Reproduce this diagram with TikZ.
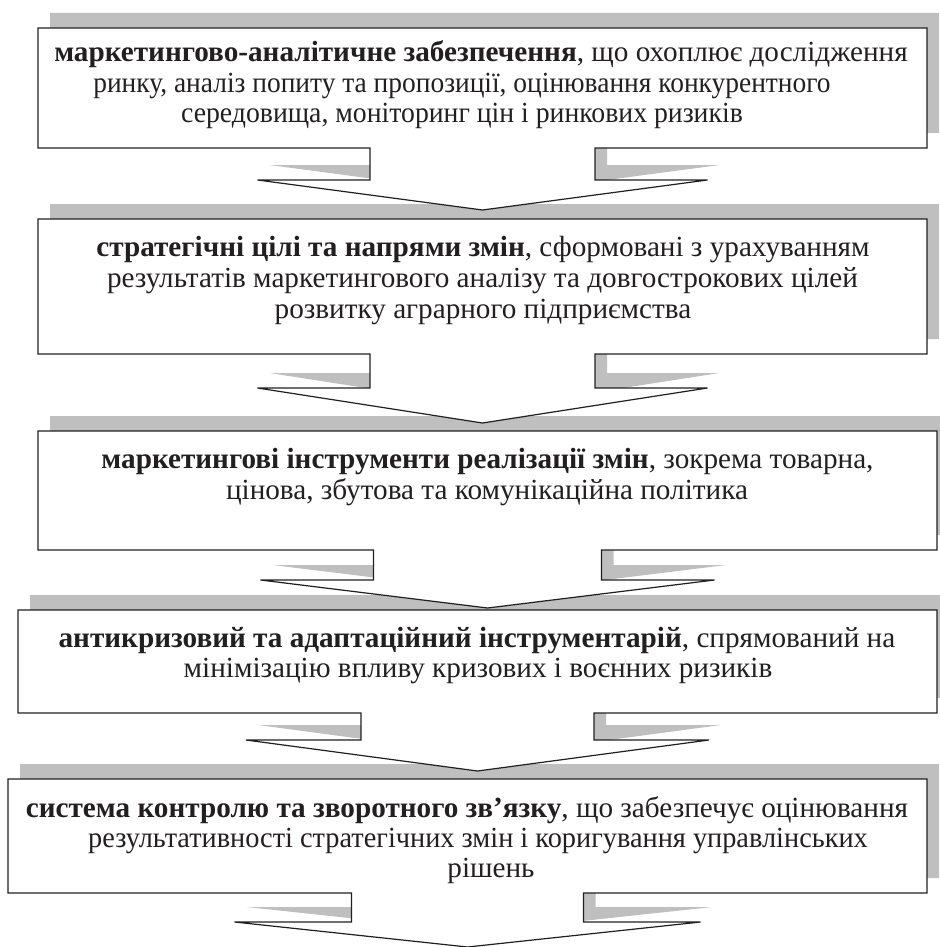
\documentclass[tikz,border=0pt]{standalone}
\usepackage{graphicx}
\usepackage{fontspec}
\setmainfont{Liberation Serif}
\definecolor{shd}{RGB}{191,191,191}
\definecolor{ink}{RGB}{35,31,32}
% callout outline: L T R B C s w Wy Py
\newcommand\cpath[9]{(#1,#2) -- (#3,#2) -- (#3,#4) -- ({#5+#6},#4) -- ({#5+#6},#8) -- ({#5+#7},#8) -- (#5,#9) -- ({#5-#7},#8) -- ({#5-#6},#8) -- ({#5-#6},#4) -- (#1,#4) -- cycle}
\newcommand\narrowtxt[2]{\scalebox{#1}[1]{#2}}
\tikzset{
  shadowfill/.style={fill=shd, draw=none, shift={(12,-15)}},
  boxshape/.style={fill=white, draw=ink, line width=1.2pt, line join=miter},
  txt/.style={font=\fontsize{29.2}{31}\selectfont, inner sep=0pt, text=ink, anchor=base}
}
\begin{document}
\begin{tikzpicture}[x=1pt,y=-1pt]
\useasboundingbox (0,0) rectangle (939,947);
% shadows
\fill[shadowfill] \cpath{38}{28}{927}{148}{482.5}{112.5}{225}{180}{210};
\fill[shadowfill] \cpath{38}{219}{927}{354}{482.5}{112.5}{225}{388}{423};
\fill[shadowfill] \cpath{38}{431}{937}{550}{487.5}{114}{227}{580}{608};
\fill[shadowfill] \cpath{18}{610}{937}{713}{477.5}{116.5}{231.5}{740}{771};
\fill[shadowfill] \cpath{8}{779}{927}{893}{467.5}{116}{233}{922}{947};
% boxes
\filldraw[boxshape] \cpath{38}{28}{927}{148}{482.5}{112.5}{225}{180}{210};
\filldraw[boxshape] \cpath{38}{219}{927}{354}{482.5}{112.5}{225}{388}{423};
\filldraw[boxshape] \cpath{38}{431}{937}{550}{487.5}{114}{227}{580}{608};
\filldraw[boxshape] \cpath{18}{610}{937}{713}{477.5}{116.5}{231.5}{740}{771};
\filldraw[boxshape] \cpath{8}{779}{927}{893}{467.5}{116}{233}{922}{947};
% texts
\node[txt] (b1a) at (481,62) {\textbf{маркетингово-аналітичне забезпечення}, що охоплює дослідження};
\node[txt] (b1b) at (462,92.5) {\narrowtxt{0.94}{ринку, аналіз попиту та пропозиції, оцінювання конкурентного}};
\node[txt] (b1c) at (462,123) {\narrowtxt{0.95}{середовища, моніторинг цін і ринкових ризиків}};
\node[txt] (b2a) at (483,256) {\textbf{стратегічні цілі та напрями змін}, сформовані з урахуванням};
\node[txt] (b2b) at (482.5,287) {результатів маркетингового аналізу та довгострокових цілей};
\node[txt] (b2c) at (483,318) {розвитку аграрного підприємства};
\node[txt] (b3a) at (487.5,468) {\textbf{маркетингові інструменти реалізації змін}, зокрема товарна,};
\node[txt] (b3b) at (487,499) {цінова, збутова та комунікаційна політика};
\node[txt] (b4a) at (477,647) {\textbf{антикризовий та адаптаційний інструментарій}, спрямований на};
\node[txt] (b4b) at (478,677) {мінімізацію впливу кризових і воєнних ризиків};
\node[txt] (b5a) at (467,817) {\textbf{система контролю та зворотного зв’язку}, що забезпечує оцінювання};
\node[txt] (b5b) at (478,847) {\narrowtxt{0.97}{результативності стратегічних змін і коригування управлінських}};
\node[txt] (b5c) at (491,877) {рішень};
\end{tikzpicture}
\end{document}
